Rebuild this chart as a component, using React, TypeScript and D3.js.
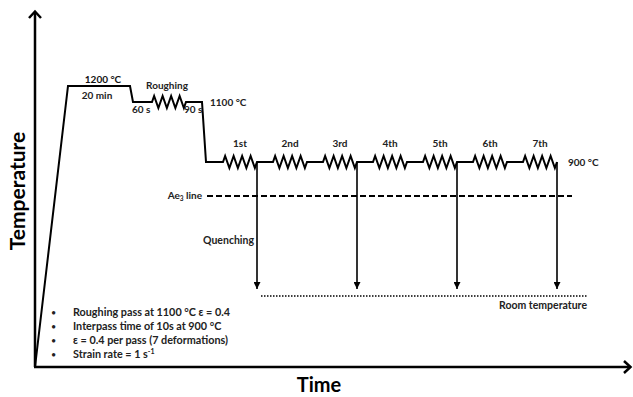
import React from 'react';
import * as d3 from 'd3';

// schematic thermomechanical schedule (time units are arbitrary)
const profileTimes = [0, 33, 95, 98, 167, 171, 522];
const profileTemps = [0, 1200, 1200, 1100, 1100, 900, 900];

const passNames = ['Roughing', '1st', '2nd', '3rd', '4th', '5th', '6th', '7th'];
const passStarts = [117, 188, 238, 288, 338, 388, 438, 488];
const passTemps = [1100, 900, 900, 900, 900, 900, 900, 900];
const passLength = 34;
const quenchedAfter = ['1st', '3rd', '5th', '7th'];

const roomTemp = 25;
const ae3Temp = 800;

const notes = [
  'Roughing pass at 1100 °C ε = 0.4',
  'Interpass time of 10s at 900 °C',
  'ε = 0.4 per pass (7 deformations)',
  'Strain rate = 1 s',
];

const W = 633;
const H = 397;
const FONT = 'Lato, "Open Sans", sans-serif';

const x = d3.scaleLinear().domain([0, 596]).range([35, 631]);
// schematic (non-linear) temperature axis
const y = d3
  .scaleLinear()
  .domain([0, roomTemp, ae3Temp, 900, 1100, 1200])
  .range([367, 296, 196, 162, 102, 86]);

const zigAmp = 6;
const teeth = 4;

function buildProfile(): [number, number][] {
  const pts: [number, number][] = [];
  for (let i = 0; i < profileTimes.length; i++) {
    const t = profileTimes[i];
    const T = profileTemps[i];
    pts.push([x(t), y(T)]);
    const tNext = i < profileTimes.length - 1 ? profileTimes[i + 1] : Infinity;
    passStarts.forEach((s, j) => {
      if (s >= t && s < tNext && passTemps[j] === T) {
        const x0 = x(s);
        const x1 = x(s + passLength);
        const yy = y(T);
        pts.push([x0, yy]);
        const n = teeth * 2;
        for (let k = 0; k < n; k++) {
          const xx = x0 + ((k + 0.5) * (x1 - x0)) / n;
          pts.push([xx, k % 2 === 0 ? yy - zigAmp : yy + zigAmp]);
        }
        pts.push([x1, yy]);
      }
    });
  }
  return pts;
}

export default function App() {
  const line = d3.line();
  const profile = buildProfile();
  const y900 = y(900);
  const yRoom = y(roomTemp);
  const yAe3 = y(ae3Temp);
  const lab = { fontSize: 10, fontWeight: 'bold' as const, fill: '#222' };

  return (
    <svg
      width={W}
      height={H}
      style={{ position: 'absolute', left: 0, top: 0, background: '#fff' }}
      fontFamily={FONT}
    >
      <defs>
        <marker id="qa" viewBox="0 0 10 10" refX="10" refY="5" markerWidth="7" markerHeight="7" orient="auto" markerUnits="userSpaceOnUse">
          <path d="M0,0 L10,5 L0,10 Z" fill="#000" />
        </marker>
      </defs>

      {/* axes */}
      <path d={`M${x(0)},${y(0)} V12`} stroke="#000" strokeWidth={2.5} fill="none" />
      <path d={`M${x(0) - 6},18 L${x(0)},11.5 L${x(0) + 6},18`} stroke="#000" strokeWidth={2.5} fill="none" />
      <path d={`M${x(0) - 1},${y(0)} H630`} stroke="#000" strokeWidth={2.5} fill="none" />
      <path d={`M624,${y(0) - 6} L630.5,${y(0)} L624,${y(0) + 6}`} stroke="#000" strokeWidth={2.5} fill="none" />

      <text transform={`translate(25,191) rotate(-90)`} textAnchor="middle" fontSize={21} fontWeight="bold">
        Temperature
      </text>
      <text x={319} y={392} textAnchor="middle" fontSize={20} fontWeight="bold">
        Time
      </text>

      {/* temperature profile */}
      <path d={line(profile) || ''} stroke="#000" strokeWidth={2} fill="none" strokeLinejoin="miter" />

      {/* Ae3 line */}
      <line x1={207} x2={572} y1={yAe3} y2={yAe3} stroke="#000" strokeWidth={2} strokeDasharray="6,3" />
      <text x={202} y={yAe3 + 3} textAnchor="end" {...lab}>
        Ae<tspan fontSize={6.5} dy={2}>3</tspan>
        <tspan dy={-2}> line</tspan>
      </text>

      {/* room temperature */}
      <line x1={261} x2={587} y1={yRoom} y2={yRoom} stroke="#000" strokeWidth={1.5} strokeDasharray="1.5,1.5" />
      <text x={587} y={yRoom + 13} textAnchor="end" {...lab} fontSize={10.5}>
        Room temperature
      </text>

      {/* quench arrows */}
      {quenchedAfter.map((name) => {
        const j = passNames.indexOf(name);
        const xq = x(passStarts[j] + passLength);
        return (
          <line key={name} x1={xq} x2={xq} y1={y900} y2={yRoom - 7} stroke="#000" strokeWidth={1.6} markerEnd="url(#qa)" />
        );
      })}
      <text x={254} y={244} textAnchor="end" {...lab} fontSize={10.5}>
        Quenching
      </text>

      {/* pass labels */}
      {passNames.map((name, j) =>
        j === 0 ? (
          <text key={name} x={x(passStarts[j] + passLength / 2) - 2} y={89} textAnchor="middle" {...lab}>
            {name}
          </text>
        ) : (
          <text key={name} x={x(passStarts[j] + passLength / 2)} y={y900 - 15} textAnchor="middle" {...lab}>
            {name}
          </text>
        )
      )}

      {/* temperature / time annotations */}
      <text x={103} y={y(1200) - 3} textAnchor="middle" {...lab} fill="#111">1200 °C</text>
      <text x={97} y={99} textAnchor="middle" {...lab}>20 min</text>
      <text x={132} y={113} {...lab}>60 s</text>
      <text x={184} y={113} {...lab}>90 s</text>
      <text x={210} y={y(1100) + 4} {...lab}>1100 °C</text>
      <text x={568} y={y900 + 4} {...lab}>900 °C</text>

      {/* notes */}
      {notes.map((n, i) => (
        <g key={i}>
          <text x={51} y={316 + i * 14} fontSize={9} fill="#222">•</text>
          <text x={73} y={316 + i * 14} fontSize={10.8} fontWeight="bold" fill="#222">
            {n}
            {i === 3 ? <tspan fontSize={7} dy={-4}>-1</tspan> : null}
          </text>
        </g>
      ))}
    </svg>
  );
}
